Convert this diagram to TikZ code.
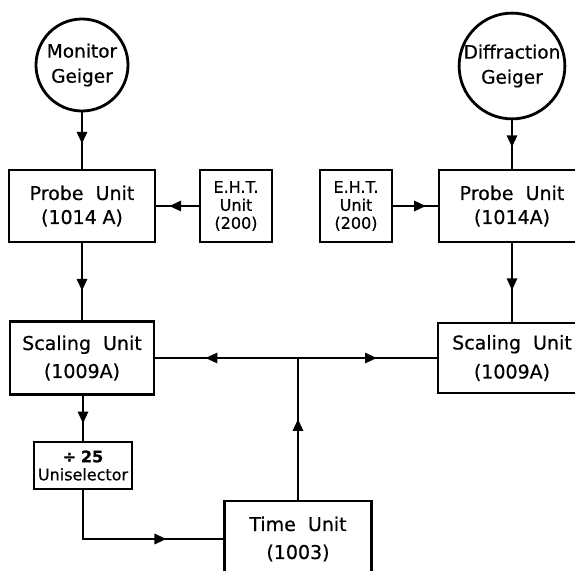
\documentclass[tikz,border=0pt]{standalone}
\usepackage{fontspec}
\setmainfont[WordSpace=2.0,FakeBold=0.6]{DejaVu Sans}
\usetikzlibrary{arrows.meta,decorations.markings}
\tikzset{
  box/.style={draw, line width=2.8pt, rectangle, inner sep=0pt, align=center, font=\fontsize{19}{24}\selectfont},
  geiger/.style={draw, line width=2.8pt, circle, minimum size=92pt, inner sep=0pt, align=center, font=\fontsize{18.5}{25}\selectfont},
  ehtbox/.style={box, minimum width=72pt, minimum height=72pt, font=\fontsize{16}{18}\selectfont},
  conn/.style={line width=2.8pt},
  arrowat/.style={postaction={decorate}, decoration={markings, mark=at position #1 with {\arrow{Triangle[length=12pt,width=10pt]}}}},
}
\begin{document}
\begin{tikzpicture}[x=1pt,y=-1pt]
\useasboundingbox (0,0) rectangle (575,570);
\clip (0,0) rectangle (575,570);
% nodes
\node[geiger] (mon) at (82,65) {Monitor\\Geiger};
\node[geiger] (dif) at (512,66) {Diffraction\\Geiger};
\node[box, minimum width=146pt, minimum height=72pt] (probeL) at (82,206) {Probe Unit\\(1014\hspace{0.3em}A)};
\node[ehtbox] (ehtL) at (236,206) {E.H.T.\\Unit\\(200)};
\node[ehtbox] (ehtR) at (356,206) {E.H.T.\\Unit\\(200)};
\node[box, minimum width=146pt, minimum height=72pt] (probeR) at (512,206) {Probe Unit\\(1014A)};
\node[box, minimum width=144pt, minimum height=73pt, font=\fontsize{19}{28}\selectfont] (scaleL) at (82,358) {Scaling Unit\\(1009A)};
\node[box, minimum width=148pt, minimum height=70pt, font=\fontsize{19}{29}\selectfont] (scaleR) at (512,358) {Scaling Unit\\(1009A)};
\node[box, minimum width=98pt, minimum height=47pt, font=\fontsize{16}{18}\selectfont] (uni) at (83,465.5) {\textbf{÷\hspace{0.3em}25}\\Uniselector};
\node[box, minimum width=147pt, minimum height=76pt, font=\fontsize{19}{28}\selectfont] (time) at (298,539) {Time Unit\\(1003)};
\coordinate (j) at (time.north |- scaleL.east);
% connectors
\draw[conn, arrowat=0.56] (mon.south) -- (probeL.north);
\draw[conn, arrowat=0.56] (dif.south) -- (probeR.north);
\draw[conn, arrowat=0.7] (ehtL.west) -- (probeL.east);
\draw[conn, arrowat=0.74] (ehtR.east) -- (probeR.west);
\draw[conn, arrowat=0.62] (probeL.south) -- (scaleL.north);
\draw[conn, arrowat=0.6] (probeR.south) -- (scaleR.north);
\draw[conn, arrowat=0.62] (scaleL.south -| uni.north) -- (uni.north);
\draw[conn, arrowat=0.7] (uni.south) |- (time.west);
\draw[conn, arrowat=0.57] (time.north) -- (j);
\draw[conn, arrowat=0.65] (j) -- (scaleL.east);
\draw[conn, arrowat=0.57] (j) -- (scaleR.west);
\end{tikzpicture}
\end{document}
